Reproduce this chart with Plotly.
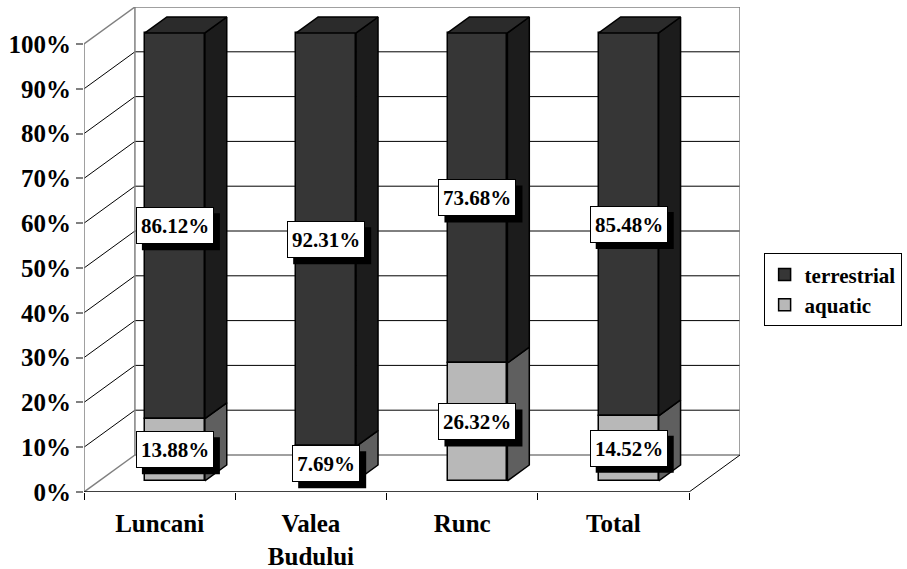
import plotly.graph_objects as go

# Share of terrestrial vs aquatic species per site (percent)
sites = ["Luncani", "Valea<br>Budului", "Runc", "Total"]
terrestrial = [86.12, 92.31, 73.68, 85.48]
aquatic = [13.88, 7.69, 26.32, 14.52]
y_tick_values = [0, 10, 20, 30, 40, 50, 60, 70, 80, 90, 100]
y_tick_labels = [f"{v}%" for v in y_tick_values]

# Oblique projection of the depth direction, in axis units
DEPTH_X = 0.3366          # full floor depth along x (category units)
DEPTH_Y = 8.26            # full floor depth along y (percent units)
FRONT = 0.30              # depth of the bar front face (fraction of floor depth)
BACK = 0.73               # depth of the bar back face
BAR_W = 0.396             # bar width in category units

FONT = "Times New Roman, Liberation Serif, serif"
TERR_FRONT, TERR_SIDE, TERR_TOP = "#363636", "#1c1c1c", "#2b2b2b"
AQUA_FRONT, AQUA_SIDE = "#b8b8b8", "#5f5f5f"
WALL = "#808080"

LABEL_SIZE = 21
LABEL_PAD = 4
LABEL_H = 27
SHADOW = 6


def proj(x, v, d):
    """Project a point at front-plane x, value v and depth d onto the axes."""
    return x + d * DEPTH_X, v + d * DEPTH_Y


def text_width(txt, size):
    """Approximate advance width of a bold serif numeric label."""
    em = {".": 0.25, "%": 1.0}
    return sum(em.get(ch, 0.5) for ch in txt) * size


n = len(sites)
centers = [i + 0.5 for i in range(n)]
bar_x = [proj(c, 0, FRONT)[0] for c in centers]
aqua_base = [proj(0, 0, FRONT)[1] for _ in range(n)]
terr_base = [proj(0, a, FRONT)[1] for a in aquatic]

fig = go.Figure()

# Front faces of the stacked bars
fig.add_trace(go.Bar(
    name="<b>terrestrial</b>", x=bar_x, y=terrestrial, base=terr_base, width=BAR_W,
    marker=dict(color=TERR_FRONT, line=dict(color="black", width=1.5)),
    hoverinfo="skip",
))
fig.add_trace(go.Bar(
    name="<b>aquatic</b>", x=bar_x, y=aquatic, base=aqua_base, width=BAR_W,
    marker=dict(color=AQUA_FRONT, line=dict(color="black", width=1.5)),
    hoverinfo="skip",
))


def face(points, color):
    xs = [p[0] for p in points] + [points[0][0]]
    ys = [p[1] for p in points] + [points[0][1]]
    fig.add_trace(go.Scatter(
        x=xs, y=ys, mode="lines", fill="toself", fillcolor=color,
        line=dict(color="black", width=1.5), showlegend=False, hoverinfo="skip",
    ))


# Side and top faces giving the bars their depth
for c, a, t in zip(centers, aquatic, terrestrial):
    xl, xr = c - BAR_W / 2, c + BAR_W / 2
    top = a + t
    face([proj(xr, 0, FRONT), proj(xr, 0, BACK), proj(xr, a, BACK), proj(xr, a, FRONT)], AQUA_SIDE)
    face([proj(xr, a, FRONT), proj(xr, a, BACK), proj(xr, top, BACK), proj(xr, top, FRONT)], TERR_SIDE)
    face([proj(xl, top, FRONT), proj(xr, top, FRONT), proj(xr, top, BACK), proj(xl, top, BACK)], TERR_TOP)

shapes = []


def seg(p0, p1, color, width):
    shapes.append(dict(type="line", xref="x", yref="y", x0=p0[0], y0=p0[1],
                       x1=p1[0], y1=p1[1], line=dict(color=color, width=width),
                       layer="below"))


x_end = float(n)
# Gridlines on the back wall and the side wall
for v in y_tick_values[1:-1]:
    seg(proj(0, v, 1), proj(x_end, v, 1), "black", 1)
    seg(proj(0, v, 0), proj(0, v, 1), "black", 1)
# Wall outlines
seg(proj(0, 0, 0), proj(0, 100, 0), WALL, 1.5)
seg(proj(0, 100, 0), proj(0, 100, 1), WALL, 1.5)
seg(proj(0, 0, 0), proj(0, 0, 1), WALL, 1.5)
seg(proj(0, 0, 1), proj(0, 100, 1), WALL, 1.5)
seg(proj(0, 100, 1), proj(x_end, 100, 1), WALL, 1.5)
seg(proj(x_end, 0, 1), proj(x_end, 100, 1), WALL, 1.5)
seg(proj(0, 0, 1), proj(x_end, 0, 1), WALL, 1.5)
# Floor front and right edges
seg(proj(0, 0, 0), proj(x_end, 0, 0), "black", 1.5)
seg(proj(x_end, 0, 0), proj(x_end, 0, 1), "black", 1)

# Value labels with a drop shadow, centred on each segment's front face
annotations = []
label_font = dict(family=FONT, size=LABEL_SIZE, color="black", weight="bold")
for bx, a, t in zip(bar_x, aquatic, terrestrial):
    for val, mid in ((a, a / 2), (t, a + t / 2)):
        ly = proj(0, mid, FRONT)[1]
        txt = f"{val:.2f}%"
        w = round(text_width(txt, LABEL_SIZE))
        half_w = w / 2 + LABEL_PAD + 1
        half_h = LABEL_H / 2 + LABEL_PAD + 1
        shapes.append(dict(
            type="rect", xref="x", yref="y", xsizemode="pixel", ysizemode="pixel",
            xanchor=bx, yanchor=ly,
            x0=-half_w + SHADOW, x1=half_w + SHADOW,
            y0=-half_h - SHADOW, y1=half_h - SHADOW,
            fillcolor="black", line=dict(width=0), layer="above",
        ))
        annotations.append(dict(
            x=bx, y=ly, xref="x", yref="y", text=txt, showarrow=False,
            font=label_font, bgcolor="white", bordercolor="black",
            borderwidth=1, borderpad=LABEL_PAD, width=w, height=LABEL_H,
            align="center", valign="middle",
        ))

fig.update_layout(
    width=907, height=569,
    margin=dict(l=84, r=167, t=7, b=77, autoexpand=False),
    paper_bgcolor="white", plot_bgcolor="white",
    barmode="overlay", bargap=0,
    shapes=shapes, annotations=annotations,
    showlegend=True,
    legend=dict(
        x=1.036, y=0.492, xanchor="left", yanchor="top",
        traceorder="normal", bordercolor="black", borderwidth=1,
        bgcolor="white", itemwidth=30,
        font=dict(family=FONT, size=21, color="black", weight="bold"),
    ),
    xaxis=dict(
        range=[0, x_end + DEPTH_X], showgrid=False, zeroline=False, showline=False,
        automargin=False,
        tickmode="array", tickvals=centers, ticktext=sites,
        ticks="outside", ticklen=9, tickcolor="rgba(0,0,0,0)",
        minor=dict(tickmode="array", tickvals=list(range(n + 1)), ticks="outside",
                   ticklen=7, tickcolor="black", tickwidth=1),
        tickfont=dict(family=FONT, size=25, color="black", weight="bold"),
        fixedrange=True,
    ),
    yaxis=dict(
        range=[0, 100 + DEPTH_Y], showgrid=False, zeroline=False, showline=False,
        automargin=False,
        tickmode="array", tickvals=y_tick_values, ticktext=y_tick_labels,
        ticks="outside", ticklen=7, tickcolor=WALL, tickwidth=1.5,
        tickfont=dict(family=FONT, size=25, color="black", weight="bold"),
        fixedrange=True,
    ),
)

fig.write_html("out.html")
